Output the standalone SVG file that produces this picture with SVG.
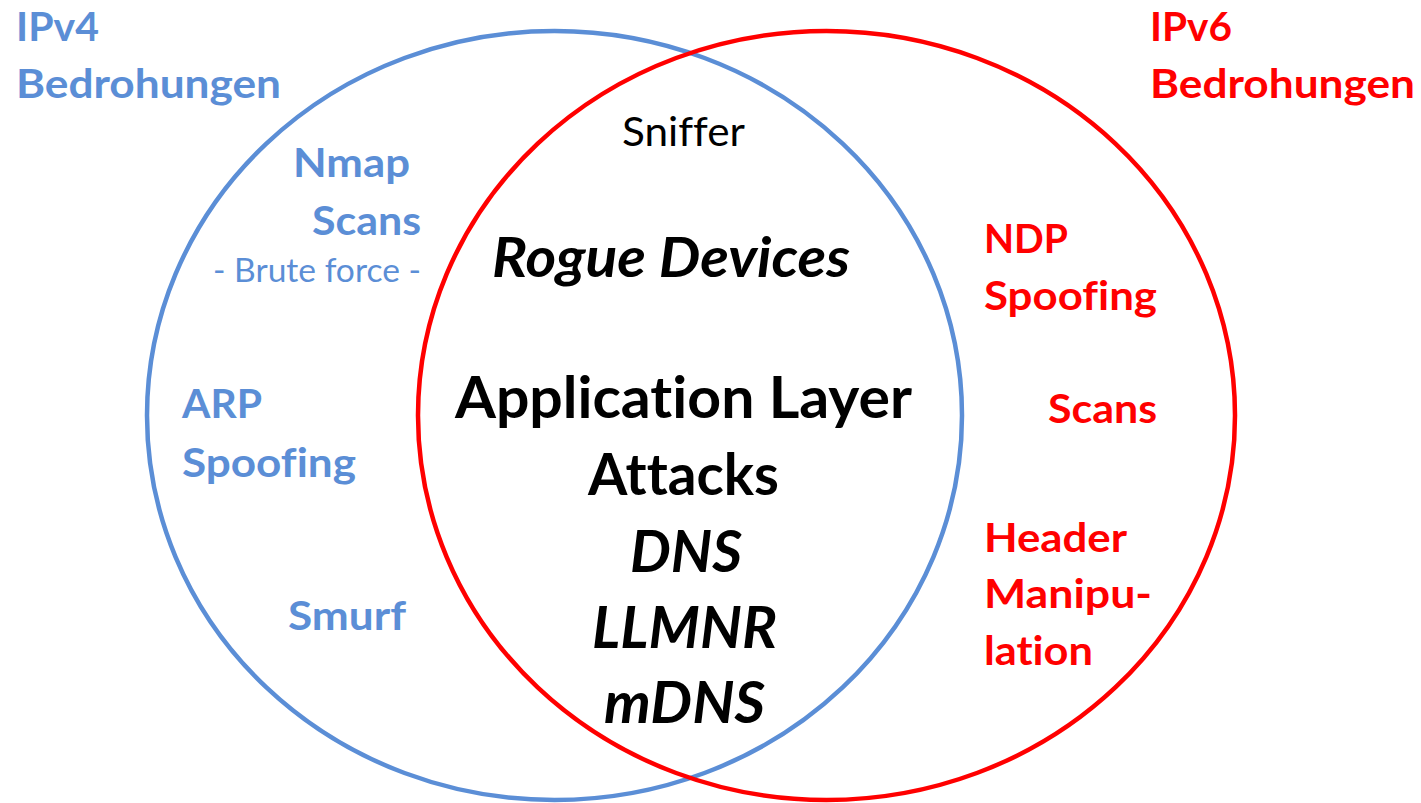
<svg xmlns="http://www.w3.org/2000/svg" width="1421" height="803" viewBox="0 0 1421 803">
  <style>
    .ring { fill: none; stroke-width: 4.5; }
    .v4 { fill: #5B8ED6; }
    .v6 { fill: #FF0000; }
    .both { fill: #000000; }
    text { font-family: Lato, "Open Sans", "Liberation Sans", sans-serif; font-variant-ligatures: none; }
    .b { font-weight: 700; }
    .bi { font-weight: 700; font-style: italic; }
    .r { font-weight: 400; }
    .lbl { font-size: 41px; }
    .big { font-size: 57px; }
  </style>
  <rect width="1421" height="803" fill="#FFFFFF"/>

  <!-- IPv4 set -->
  <g id="ipv4-set">
    <ellipse class="ring" cx="554.5" cy="415.5" rx="407.5" ry="384.5" stroke="#5B8ED6"/>
  </g>

  <!-- IPv6 set -->
  <g id="ipv6-set">
    <ellipse class="ring" cx="826.5" cy="415.5" rx="408.5" ry="384.5" stroke="#FF0000"/>
  </g>

  <!-- Set titles -->
  <g id="title-ipv4" class="v4 b lbl">
    <text x="16" y="41" textLength="83" lengthAdjust="spacingAndGlyphs">IPv4</text>
    <text x="16" y="98" textLength="265" lengthAdjust="spacingAndGlyphs">Bedrohungen</text>
  </g>
  <g id="title-ipv6" class="v6 b lbl">
    <text x="1150" y="41" textLength="82" lengthAdjust="spacingAndGlyphs">IPv6</text>
    <text x="1150" y="98" textLength="265" lengthAdjust="spacingAndGlyphs">Bedrohungen</text>
  </g>

  <!-- IPv4-only threats -->
  <g id="nmap-scans" class="v4">
    <text class="b lbl" x="293" y="177" textLength="117" lengthAdjust="spacingAndGlyphs">Nmap</text>
    <text class="b lbl" x="312" y="235" textLength="109" lengthAdjust="spacingAndGlyphs">Scans</text>
    <text class="r" x="213" y="282" font-size="33" textLength="208" lengthAdjust="spacingAndGlyphs">- Brute force -</text>
  </g>
  <g id="arp-spoofing" class="v4 b lbl">
    <text x="182" y="418" textLength="80" lengthAdjust="spacingAndGlyphs">ARP</text>
    <text x="182" y="477" textLength="174" lengthAdjust="spacingAndGlyphs">Spoofing</text>
  </g>
  <g id="smurf" class="v4 b lbl">
    <text x="288" y="630" textLength="118" lengthAdjust="spacingAndGlyphs">Smurf</text>
  </g>

  <!-- Shared threats -->
  <g id="sniffer" class="both r">
    <text x="622" y="146" font-size="40" textLength="123" lengthAdjust="spacingAndGlyphs">Sniffer</text>
  </g>
  <g id="rogue-devices" class="both bi">
    <text x="492" y="277" font-size="56" textLength="358" lengthAdjust="spacingAndGlyphs">Rogue Devices</text>
  </g>
  <g id="application-layer" class="both big">
    <text class="b" x="455" y="418" textLength="457" lengthAdjust="spacingAndGlyphs">Application Layer</text>
    <text class="b" x="588" y="495" textLength="191" lengthAdjust="spacingAndGlyphs">Attacks</text>
    <text class="bi" x="630" y="572" textLength="112" lengthAdjust="spacingAndGlyphs">DNS</text>
    <text class="bi" x="592" y="648" textLength="185" lengthAdjust="spacingAndGlyphs">LLMNR</text>
    <text class="bi" x="604" y="723" textLength="161" lengthAdjust="spacingAndGlyphs">mDNS</text>
  </g>

  <!-- IPv6-only threats -->
  <g id="ndp-spoofing" class="v6 b lbl">
    <text x="984" y="253" textLength="84" lengthAdjust="spacingAndGlyphs">NDP</text>
    <text x="984" y="310" textLength="173" lengthAdjust="spacingAndGlyphs">Spoofing</text>
  </g>
  <g id="scans-v6" class="v6 b lbl">
    <text x="1048" y="423" textLength="109" lengthAdjust="spacingAndGlyphs">Scans</text>
  </g>
  <g id="header-manipulation" class="v6 b lbl">
    <text x="984" y="552" textLength="143" lengthAdjust="spacingAndGlyphs">Header</text>
    <text x="984" y="608" textLength="168" lengthAdjust="spacingAndGlyphs">Manipu-</text>
    <text x="984" y="665" textLength="109" lengthAdjust="spacingAndGlyphs">lation</text>
  </g>
</svg>
